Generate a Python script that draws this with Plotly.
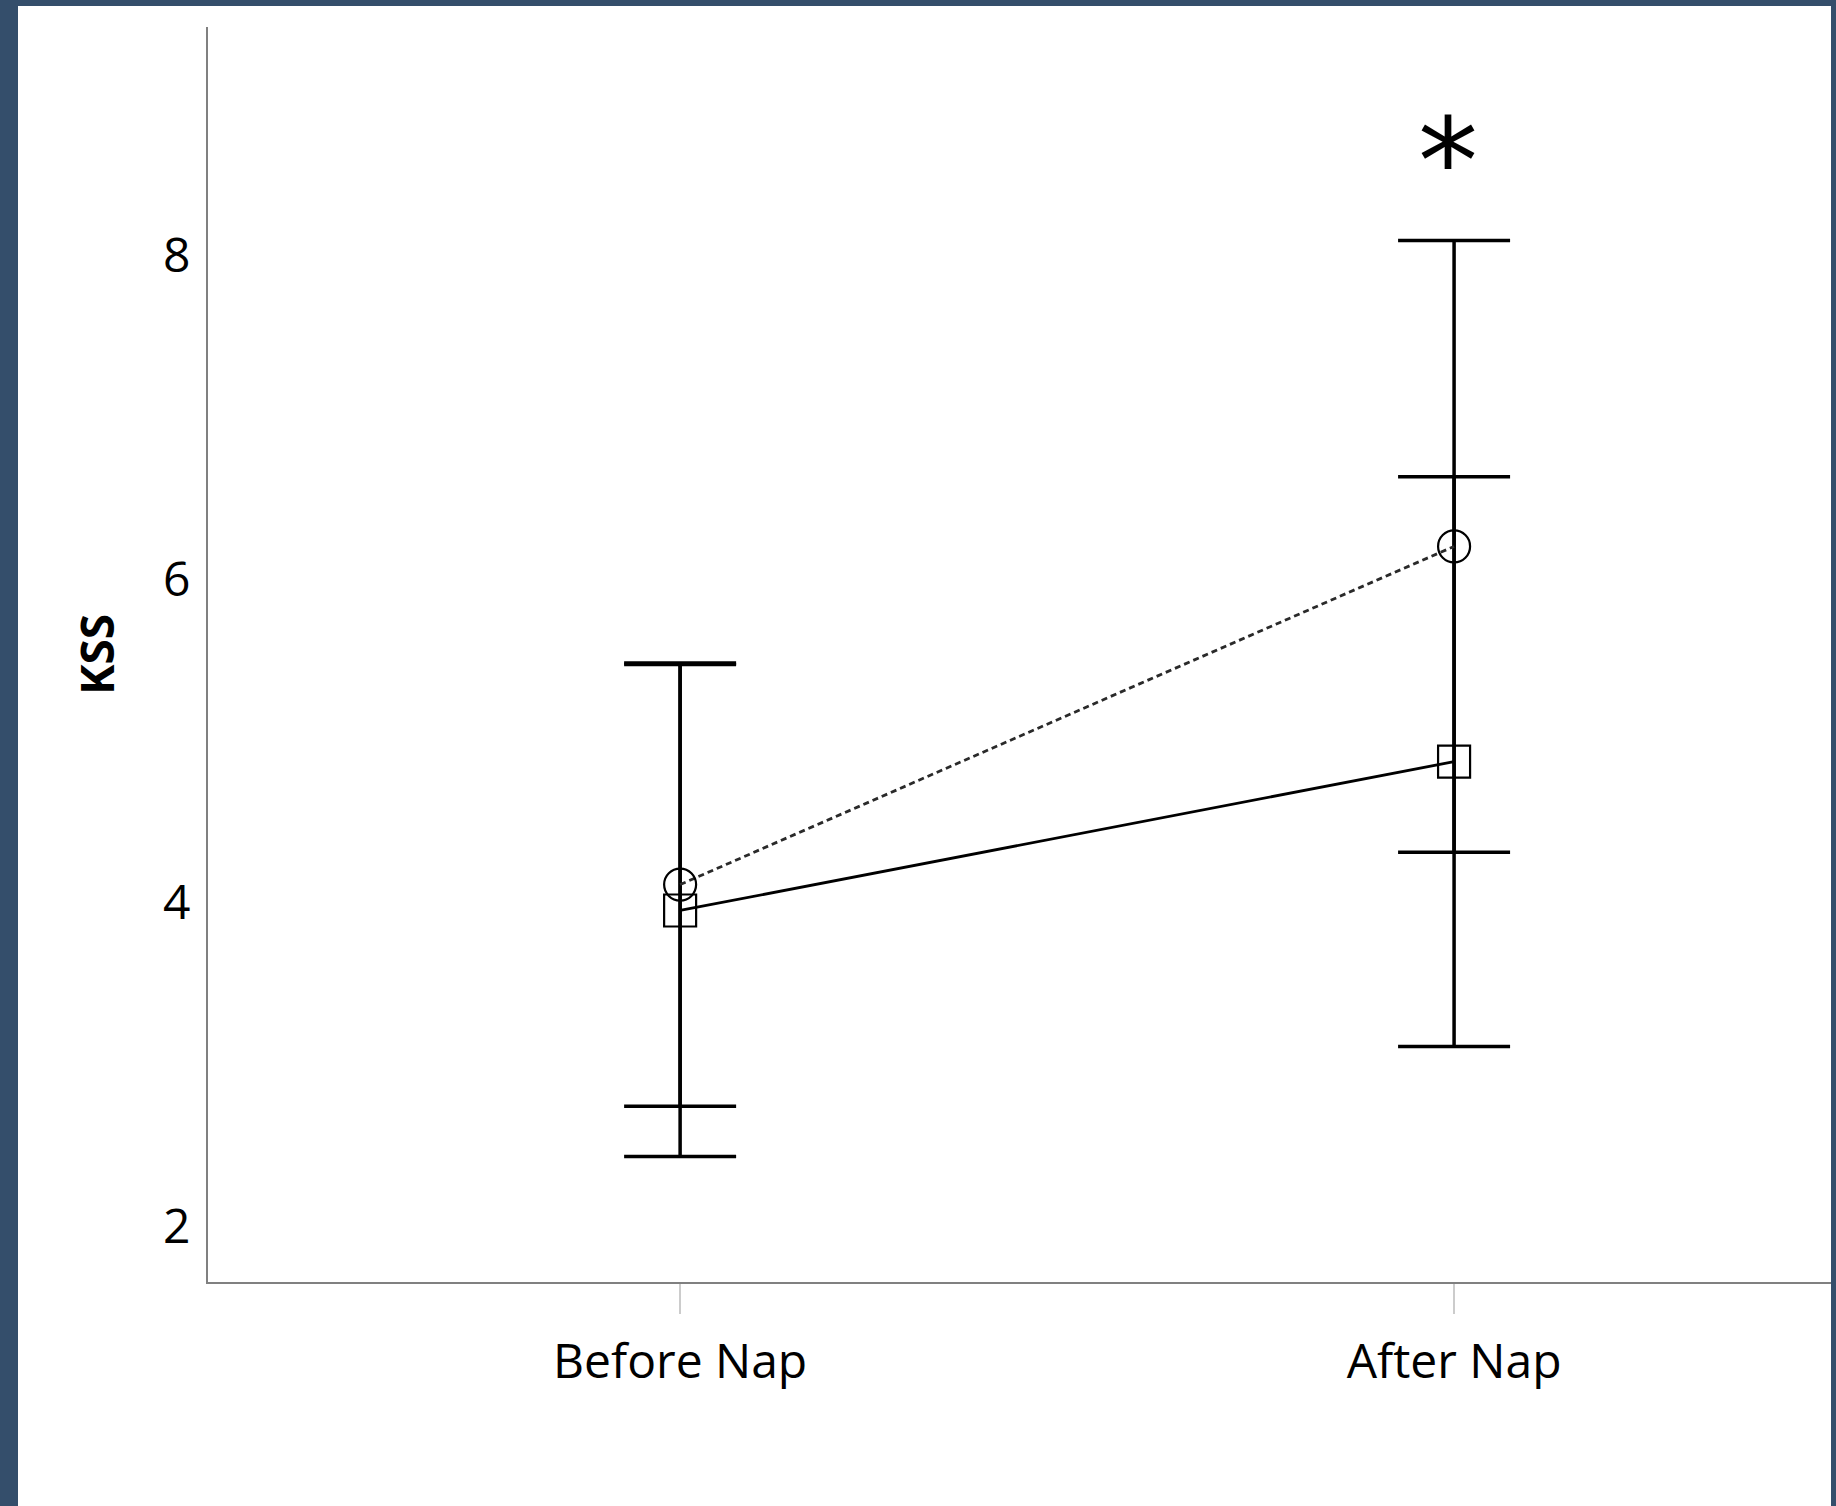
import plotly.graph_objects as go

categories = ["Before Nap", "After Nap"]
circle_means = [4.11, 6.20]
circle_err = [1.37, 1.89]
square_means = [3.95, 4.87]
square_err = [1.52, 1.76]
y_ticks = [2, 4, 6, 8]
sig_label = "*"

W, H = 1836, 1506
L, R, T, B = 208, 5, 27, 224
pw = W - L - R
ph = H - T - B

def fx(px):
    return (px - L) / pw

def fy(py):
    return (H - B - py) / ph

FONT = "Open Sans"

fig = go.Figure()
fig.add_trace(go.Scatter(
    x=categories, y=square_means, mode="lines+markers",
    line=dict(color="black", width=2.8),
    marker=dict(symbol="square-open", size=32, color="black", line=dict(width=2.2, color="black")),
    error_y=dict(type="data", array=square_err, visible=True, color="black", thickness=3.5, width=56),
    showlegend=False,
))
fig.add_trace(go.Scatter(
    x=categories, y=circle_means, mode="lines+markers",
    line=dict(color="#2a2a2a", width=2.8, dash="6px,4px"),
    marker=dict(symbol="circle-open", size=32, color="black", line=dict(width=2.2, color="black")),
    error_y=dict(type="data", array=circle_err, visible=True, color="black", thickness=3.5, width=56),
    showlegend=False,
))

fig.add_annotation(x=categories[1], y=8.73, text=sig_label, showarrow=False,
                   xanchor="center", yanchor="middle", xshift=-6, yshift=-24,
                   font=dict(family="DejaVu Sans", size=120, color="black"))

fig.add_shape(type="rect", xref="paper", yref="paper", layer="below",
              x0=fx(18), x1=fx(1831), y0=fy(1506), y1=fy(6),
              fillcolor="white", line=dict(width=0))

fig.update_layout(
    width=W, height=H,
    margin=dict(l=L, r=R, t=T, b=B, pad=0),
    paper_bgcolor="#344e6b",
    plot_bgcolor="white",
    font=dict(family=FONT, size=48, color="black"),
)
fig.update_xaxes(
    type="category", range=[-0.61, 1.487],
    showline=True, linecolor="#808080", linewidth=2,
    showgrid=False, zeroline=False,
    ticks="outside", ticklen=30, tickwidth=2, tickcolor="#cccccc",
    ticklabelstandoff=6,
    tickfont=dict(family=FONT, size=48, color="black"),
)
fig.update_yaxes(
    range=[1.654, 9.41],
    tickvals=y_ticks,
    showline=True, linecolor="#808080", linewidth=2,
    showgrid=False, zeroline=False,
    ticks="", ticklabelstandoff=6,
    tickfont=dict(family=FONT, size=48, color="black"),
    title=dict(text="<b>KSS</b>", font=dict(family=FONT, size=46, color="black"), standoff=34),
)

fig.write_html("out.html")
